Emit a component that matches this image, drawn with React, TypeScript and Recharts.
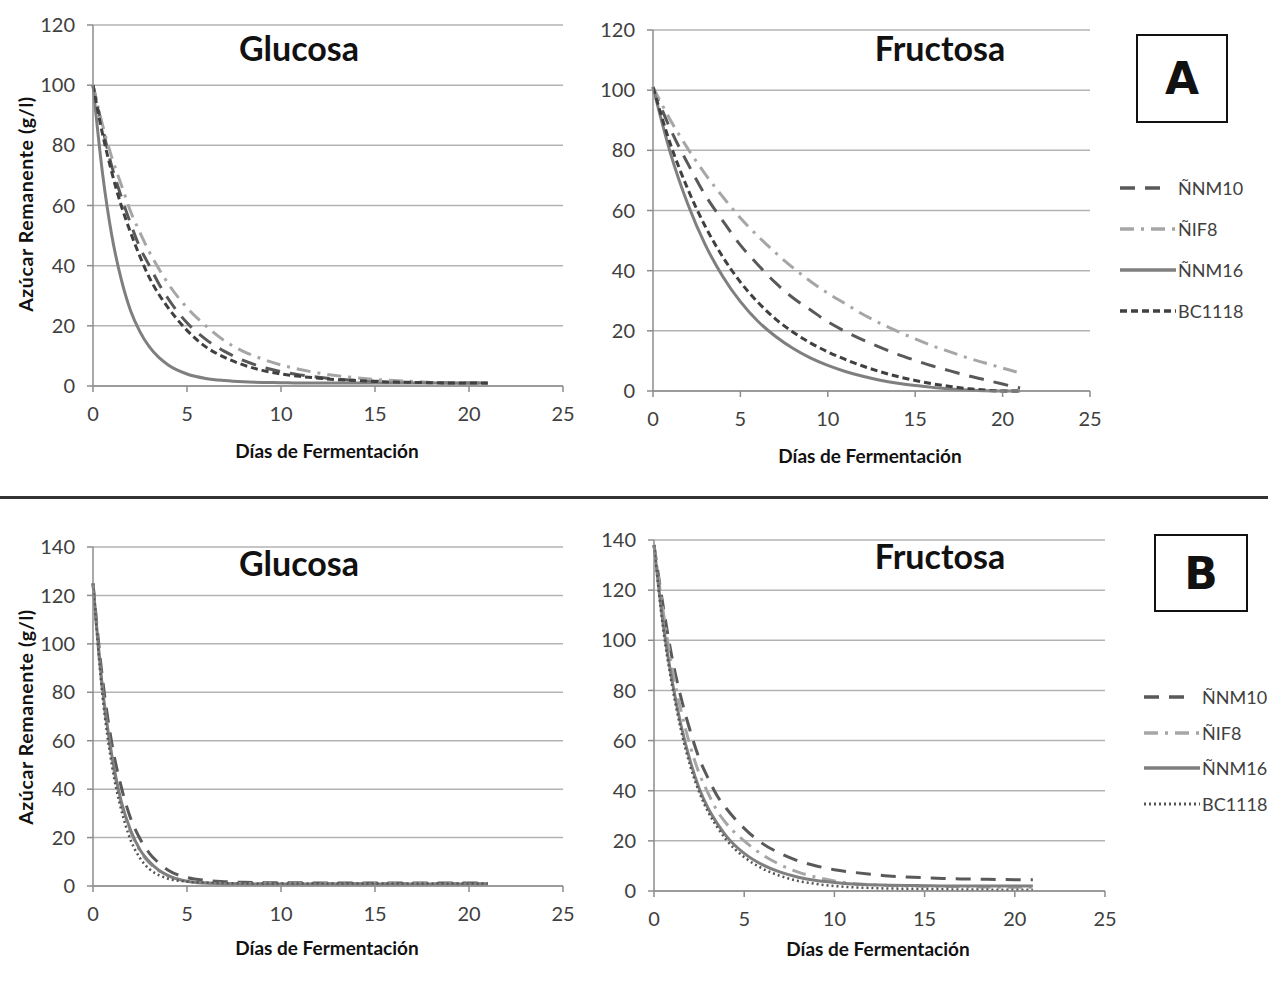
import { LineChart, Line, XAxis, YAxis, CartesianGrid } from 'recharts'

// days sampled in the panels
const daysA = [0, 1, 2, 3, 4, 5, 6, 7, 8, 9, 10, 11, 12, 13, 14, 15, 16, 17, 18, 19, 20, 21]
const daysFine = [0, 0.5, 1, 1.5, 2, 2.5, 3, 3.5, 4, 5, 6, 7, 8, 9, 10, 11, 12, 13, 14, 15, 16, 17, 18, 19, 20, 21]

// A - Glucosa (daysFine)
const gA_NNM10 = [100, 86, 73, 63, 54, 46, 40, 34, 29, 21, 15.5, 11.5, 8.5, 6.3, 4.8, 3.7, 2.9, 2.3, 1.9, 1.6, 1.4, 1.2, 1.1, 1, 1, 1]
const gA_NIF8 = [100, 87, 76, 67, 58, 51, 44.5, 39, 34, 26, 20, 15, 11.5, 9, 7, 5.5, 4.3, 3.4, 2.7, 2.2, 1.8, 1.5, 1.2, 1, 0.8, 0.8]
const gA_NNM16 = [100, 71, 50, 35.5, 25, 18, 13, 9.5, 7, 4, 2.5, 1.8, 1.4, 1.2, 1.1, 1, 1, 1, 1, 1, 1, 1, 1, 1, 1, 1]
const gA_BC1118 = [100, 84, 71, 60, 51, 43, 36, 30.5, 26, 18.5, 13, 9.5, 7, 5.2, 4, 3.2, 2.6, 2.1, 1.8, 1.5, 1.3, 1.2, 1.1, 1, 1, 1]

// A - Fructosa (daysA)
const fA_NNM10 = [101, 87, 75.5, 65, 56.5, 48.5, 42, 36, 31, 27, 23, 19.8, 17, 14.5, 12.2, 10.2, 8.3, 6.7, 5.1, 3.7, 2.3, 1]
const fA_NIF8 = [101, 90, 80.5, 72, 64.5, 57.5, 51.5, 46, 41, 36.5, 32.5, 29, 25.5, 22.5, 19.8, 17.3, 15, 13, 11, 9.3, 7.6, 6]
const fA_NNM16 = [101, 79, 62, 48.5, 38, 29.7, 23.2, 18.2, 14.2, 11, 8.5, 6.5, 4.9, 3.6, 2.6, 1.8, 1.2, 0.7, 0.35, 0.1, 0, 0]
const fA_BC1118 = [101, 82, 67, 54.6, 44.5, 36.2, 29.5, 24, 19.6, 16, 13, 10.5, 8.3, 6.4, 4.8, 3.5, 2.4, 1.5, 0.8, 0.3, 0, 0]

// B - Glucosa (daysFine)
const gB_NNM10 = [125, 86, 59, 41, 28, 19.5, 13.5, 9.5, 6.5, 3.5, 2.3, 1.8, 1.5, 1.4, 1.3, 1.3, 1.2, 1.2, 1.2, 1.2, 1.2, 1.2, 1.2, 1.2, 1.2, 1.2]
const gB_NIF8 = [125, 81, 53, 34, 22.5, 14.5, 9.5, 6.3, 4.2, 2, 1.3, 1.1, 1, 1, 1, 1, 1, 1, 1, 1, 1, 1, 1, 1, 1, 1]
const gB_NNM16 = [125, 82, 54, 35, 23, 15, 10, 6.5, 4.3, 2, 1.2, 0.9, 0.8, 0.8, 0.8, 0.8, 0.8, 0.8, 0.8, 0.8, 0.8, 0.8, 0.8, 0.8, 0.8, 0.8]
const gB_BC1118 = [125, 79, 50, 31.5, 19, 11.5, 7, 4.5, 3, 1.8, 1.4, 1.2, 1.1, 1, 1, 1, 1, 1, 1, 1, 1, 1, 1, 1, 1, 1]

// B - Fructosa (daysFine)
const fB_NNM10 = [138, 114, 93, 77, 64, 53, 45, 38, 33, 25, 19, 15, 12, 10, 8.5, 7.5, 6.7, 6, 5.6, 5.3, 5, 4.8, 4.7, 4.6, 4.5, 4.5]
const fB_NIF8 = [138, 112, 89, 72, 58, 47, 39, 32, 27, 20, 14.5, 10.5, 7.5, 5.5, 4, 3, 2.5, 2.2, 2, 1.9, 1.8, 1.7, 1.6, 1.5, 1.5, 1.5]
const fB_NNM16 = [138, 107, 84, 66, 52, 41, 33, 27, 22, 15, 10.5, 7.5, 5.5, 4.2, 3.4, 2.8, 2.5, 2.3, 2.2, 2.1, 2, 2, 2, 2, 2, 2]
const fB_BC1118 = [138, 105, 82, 64, 50, 39.5, 31.5, 25.5, 20.5, 13.5, 9, 6, 4, 2.8, 2, 1.5, 1.2, 1, 0.9, 0.8, 0.7, 0.6, 0.6, 0.5, 0.5, 0.5]

const xTicks = [0, 5, 10, 15, 20, 25]
const yTicksA = [0, 20, 40, 60, 80, 100, 120]
const yTicksB = [0, 20, 40, 60, 80, 100, 120, 140]

const FONT = 'Lato, "Open Sans", sans-serif'

type Style = { key: string; name: string; color: string; dash?: string; width: number }
const stylesA: Style[] = [
  { key: 'NNM10', name: 'ÑNM10', color: '#595959', dash: '15 10', width: 3 },
  { key: 'NIF8', name: 'ÑIF8', color: '#a6a6a6', dash: '14 7 3 7', width: 3 },
  { key: 'NNM16', name: 'ÑNM16', color: '#7f7f7f', width: 3 },
  { key: 'BC1118', name: 'BC1118', color: '#404040', dash: '7 4', width: 3 },
]
const stylesB: Style[] = [
  stylesA[0],
  stylesA[1],
  stylesA[2],
  { key: 'BC1118', name: 'BC1118', color: '#555555', dash: '2 3', width: 2.5 },
]

const rows = (days: number[], a: number[], b: number[], c: number[], d: number[]) =>
  days.map((day, i) => ({ day, NNM10: a[i], NIF8: b[i], NNM16: c[i], BC1118: d[i] }))

const dataGA = rows(daysFine, gA_NNM10, gA_NIF8, gA_NNM16, gA_BC1118)
const dataFA = rows(daysA, fA_NNM10, fA_NIF8, fA_NNM16, fA_BC1118)
const dataGB = rows(daysFine, gB_NNM10, gB_NIF8, gB_NNM16, gB_BC1118)
const dataFB = rows(daysFine, fB_NNM10, fB_NIF8, fB_NNM16, fB_BC1118)

type PanelProps = {
  data: any[]
  styles: Style[]
  left: number
  top: number
  width: number
  height: number
  mTop: number
  mRight: number
  yWidth: number
  xHeight: number
  yMax: number
  yTicks: number[]
}

function Panel(p: PanelProps) {
  const tick = { fill: '#404040', fontSize: 20, fontFamily: FONT }
  return (
    <div style={{ position: 'absolute', left: p.left, top: p.top }}>
      <LineChart width={p.width} height={p.height} data={p.data}
        margin={{ top: p.mTop, right: p.mRight, left: 0, bottom: 0 }}>
        <CartesianGrid vertical={false} stroke="#b3b3b3" strokeWidth={1.5} />
        <XAxis dataKey="day" type="number" domain={[0, 25]} ticks={xTicks} height={p.xHeight}
          tick={tick} tickSize={6} tickMargin={15} stroke="#8c8c8c" strokeWidth={1.5} />
        <YAxis type="number" domain={[0, p.yMax]} ticks={p.yTicks} width={p.yWidth}
          tick={tick} tickSize={6} tickMargin={12} stroke="#8c8c8c" strokeWidth={1.5} />
        {p.styles.map(s => (
          <Line key={s.key} dataKey={s.key} name={s.name} type="monotone" stroke={s.color}
            strokeWidth={s.width} strokeDasharray={s.dash} dot={false} isAnimationActive={false} />
        ))}
      </LineChart>
    </div>
  )
}

function Text({ x, y, size, children, bold = true, rotate = false, spacing = 0 }: any) {
  return (
    <div style={{
      position: 'absolute', left: x, top: y, transform: `translate(-50%, -50%)${rotate ? ' rotate(-90deg)' : ''}`,
      fontFamily: FONT, fontSize: size, fontWeight: bold ? 700 : 400, color: '#111', whiteSpace: 'nowrap',
      letterSpacing: spacing, lineHeight: 1,
    }}>{children}</div>
  )
}

function LegendBox({ x, y, gap, styles }: { x: number; y: number; gap: number; styles: Style[] }) {
  return (
    <div style={{ position: 'absolute', left: x, top: y }}>
      {styles.map((s, i) => (
        <div key={s.key} style={{ position: 'absolute', top: i * gap, left: 0, display: 'flex', alignItems: 'center', transform: 'translateY(-50%)' }}>
          <svg width={56} height={10}>
            <line x1={0} y1={5} x2={s.dash === '15 10' ? 40 : 56} y2={5} stroke={s.color} strokeWidth={s.width + 0.5} strokeDasharray={s.dash} />
          </svg>
          <span style={{ fontFamily: FONT, fontSize: 18, color: '#404040', marginLeft: 2, whiteSpace: 'nowrap' }}>{s.name}</span>
        </div>
      ))}
    </div>
  )
}

function Letter({ x, y, w, h, ch }: any) {
  return (
    <div style={{
      position: 'absolute', left: x, top: y, width: w, height: h, border: '2px solid #111', boxSizing: 'border-box',
      display: 'flex', alignItems: 'center', justifyContent: 'center',
      fontFamily: '"DejaVu Sans", sans-serif', fontWeight: 900, fontSize: 44, color: '#111',
    }}>{ch}</div>
  )
}

export default function App() {
  return (
    <div style={{ position: 'absolute', left: 0, top: 0, width: 1268, height: 994, overflow: 'hidden', background: '#fff' }}>
      <Panel data={dataGA} styles={stylesA} left={0} top={0} width={580} height={470}
        mTop={25} mRight={17} yWidth={93} xHeight={84} yMax={120} yTicks={yTicksA} />
      <Panel data={dataFA} styles={stylesA} left={580} top={0} width={540} height={470}
        mTop={30} mRight={30} yWidth={73} xHeight={79} yMax={120} yTicks={yTicksA} />
      <Panel data={dataGB} styles={stylesB} left={0} top={500} width={580} height={494}
        mTop={47} mRight={17} yWidth={93} xHeight={108} yMax={140} yTicks={yTicksB} />
      <Panel data={dataFB} styles={stylesB} left={580} top={500} width={550} height={494}
        mTop={40} mRight={25} yWidth={74} xHeight={103} yMax={140} yTicks={yTicksB} />

      <Text x={299} y={48} size={34}>Glucosa</Text>
      <Text x={940} y={48} size={34}>Fructosa</Text>
      <Text x={299} y={563} size={34}>Glucosa</Text>
      <Text x={940} y={556} size={34}>Fructosa</Text>

      <Text x={327} y={450} size={19}>Días de Fermentación</Text>
      <Text x={870} y={455} size={19}>Días de Fermentación</Text>
      <Text x={327} y={947} size={19}>Días de Fermentación</Text>
      <Text x={878} y={948} size={19}>Días de Fermentación</Text>

      <Text x={26} y={204} size={19.5} spacing={0.6} rotate>Azúcar Remanente (g/l)</Text>
      <Text x={26} y={717} size={19.5} spacing={0.6} rotate>Azúcar Remanente (g/l)</Text>

      <Letter x={1136} y={34} w={92} h={89} ch="A" />
      <Letter x={1154} y={534} w={94} h={78} ch="B" />

      <LegendBox x={1120} y={188} gap={41} styles={stylesA} />
      <LegendBox x={1144} y={697} gap={35.5} styles={stylesB} />

      <div style={{ position: 'absolute', left: 0, top: 496, width: 1268, height: 3, background: '#333' }} />
    </div>
  )
}
